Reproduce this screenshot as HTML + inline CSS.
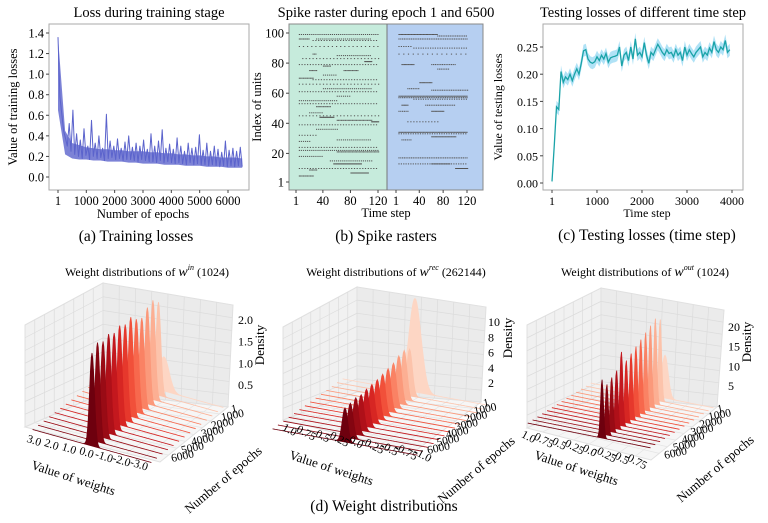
<!DOCTYPE html>
<html><head><meta charset="utf-8">
<style>
html,body{margin:0;padding:0;background:#fff;}
svg{display:block;font-family:"Liberation Serif",serif;}
</style></head>
<body>
<svg id="fig" width="768" height="523" viewBox="0 0 768 523" xmlns="http://www.w3.org/2000/svg">
<g>
<text x="149" y="17" font-size="14.5" text-anchor="middle">Loss during training stage</text>
<rect x="49" y="24" width="200" height="166" fill="#fff" stroke="#aaa" stroke-width="1"/>
<g id="ga"></g>
<text x="17" y="107" font-size="12.5" text-anchor="middle" transform="rotate(-90 17 107)">Value of training losses</text>
<text x="143" y="218" font-size="12.5" text-anchor="middle">Number of epochs</text>
<text x="136" y="241" font-size="15.5" text-anchor="middle">(a) Training losses</text>
</g>
<g>
<text x="386" y="17" font-size="14.5" text-anchor="middle">Spike raster during epoch 1 and 6500</text>
<rect x="289" y="24" width="98" height="166" fill="#c6ebdc"/>
<rect x="387" y="24" width="96" height="166" fill="#b6cff1"/>
<rect x="289" y="24" width="194" height="166" fill="none" stroke="#888" stroke-width="1"/>
<line x1="387" y1="24" x2="387" y2="190" stroke="#777" stroke-width="1"/>
<g id="gb"></g>
<text x="261" y="107" font-size="12.5" text-anchor="middle" transform="rotate(-90 261 107)">Index of units</text>
<text x="386" y="217" font-size="12.5" text-anchor="middle">Time step</text>
<text x="386" y="241" font-size="15.5" text-anchor="middle">(b) Spike rasters</text>
</g>
<g>
<text x="643" y="17" font-size="14.5" text-anchor="middle">Testing losses of different time step</text>
<rect x="543" y="24" width="200" height="166" fill="#fff" stroke="#aaa" stroke-width="1"/>
<g id="gc"></g>
<text x="502" y="107" font-size="12" text-anchor="middle" transform="rotate(-90 502 107)">Value of testing losses</text>
<text x="647" y="217" font-size="12" text-anchor="middle">Time step</text>
<text x="647" y="240" font-size="15.5" text-anchor="middle">(c) Testing losses (time step)</text>
</g>
<g id="gd">
<text x="147" y="276" font-size="12" text-anchor="middle">Weight distributions of <tspan font-style="italic" font-size="14">w</tspan><tspan font-style="italic" font-size="8" dy="-6">in</tspan><tspan dy="6"> (1024)</tspan></text>
<text x="396" y="276" font-size="12" text-anchor="middle">Weight distributions of <tspan font-style="italic" font-size="14">w</tspan><tspan font-style="italic" font-size="8" dy="-6">rec</tspan><tspan dy="6"> (262144)</tspan></text>
<text x="645" y="276" font-size="12" text-anchor="middle">Weight distributions of <tspan font-style="italic" font-size="14">w</tspan><tspan font-style="italic" font-size="8" dy="-6">out</tspan><tspan dy="6"> (1024)</tspan></text>
<text x="384" y="511" font-size="15.5" text-anchor="middle">(d) Weight distributions</text>
</g>
</svg>
<script>
const lossValues=[1.36,0.78,0.62,0.45,0.38,0.30,0.52,0.25,0.65,0.22,0.42,0.20,0.36,0.18,0.47,0.21,0.30,0.17,0.55,0.20,0.33,0.18,0.40,0.19,0.28,0.16,0.61,0.18,0.35,0.19,0.30,0.17,0.37,0.18,0.28,0.16,0.34,0.17,0.40,0.17,0.29,0.16,0.33,0.15,0.30,0.17,0.36,0.16,0.27,0.15,0.42,0.15,0.30,0.14,0.35,0.16,0.46,0.14,0.28,0.15,0.32,0.14,0.27,0.13,0.38,0.14,0.30,0.13,0.25,0.12,0.33,0.14,0.28,0.12,0.29,0.13,0.41,0.12,0.26,0.12,0.33,0.11,0.25,0.12,0.30,0.11,0.27,0.10,0.24,0.11,0.35,0.10,0.26,0.11,0.28,0.10,0.25,0.11,0.29,0.10];
const lossLow=[0.65,0.22,0.18,0.17,0.17,0.16,0.16,0.15,0.15,0.15,0.14,0.14,0.13,0.13,0.13,0.12,0.12,0.12,0.11,0.11,0.11,0.10,0.10,0.10,0.09,0.09,0.09];
const lossHigh=[1.36,0.45,0.33,0.31,0.29,0.28,0.27,0.27,0.26,0.26,0.25,0.25,0.25,0.24,0.24,0.23,0.23,0.22,0.22,0.21,0.21,0.20,0.20,0.19,0.19,0.19,0.18];
const lossYTicks=[0.0,0.2,0.4,0.6,0.8,1.0,1.2,1.4];
const lossXTicks=[1,1000,2000,3000,4000,5000,6000];
const testValues=[0.003,0.07,0.14,0.135,0.205,0.185,0.195,0.19,0.20,0.188,0.20,0.21,0.20,0.22,0.243,0.245,0.228,0.222,0.22,0.223,0.232,0.225,0.235,0.228,0.238,0.222,0.23,0.232,0.233,0.235,0.25,0.215,0.235,0.24,0.225,0.25,0.228,0.265,0.235,0.24,0.232,0.258,0.235,0.22,0.24,0.235,0.245,0.255,0.248,0.24,0.235,0.245,0.238,0.24,0.232,0.245,0.235,0.24,0.225,0.25,0.235,0.245,0.238,0.232,0.24,0.245,0.25,0.232,0.24,0.235,0.248,0.24,0.26,0.245,0.24,0.25,0.245,0.262,0.24,0.245];
const testYTicks=[0.00,0.05,0.10,0.15,0.20,0.25];
const testXTicks=[1,1000,2000,3000,4000];
const rasterYTicks=[1,20,40,60,80,100];
const rasterXTicks=[1,40,80,120];
const spikesEpoch1=[[99,5,120,3],[96,5,20,2],[96,30,110,3],[95,25,120,4],[91,5,120,6],[86,25,30,2],[85,60,110,3],[83,10,120,5],[81,100,110,1],[79,5,120,4],[78,40,50,2],[75,20,30,2],[75,70,90,2],[72,40,60,3],[70,5,25,2],[69,25,120,4],[66,5,120,5],[63,40,110,3],[61,5,120,4],[58,60,80,3],[55,5,60,3],[53,5,120,4],[51,30,50,2],[47,20,40,3],[45,5,120,5],[44,35,55,1],[42,60,110,2],[41,110,120,1],[39,5,120,4],[36,30,60,3],[32,5,30,4],[29,60,110,3],[28,5,20,3],[24,5,120,4],[22,5,120,3],[21,60,120,2],[18,5,40,3],[15,50,110,3],[13,55,95,1],[10,5,120,4],[9,20,30,2],[7,80,105,1],[5,5,25,2]];
const spikesEpoch6500=[[99,5,70,2],[98,70,120,3],[96,5,120,3],[91,5,25,4],[90,30,120,4],[86,5,120,8],[79,10,30,2],[79,60,100,3],[76,70,90,3],[67,40,60,2],[63,20,40,3],[62,60,120,3],[58,5,120,2],[57,5,120,3],[56,30,120,4],[52,10,20,2],[52,50,100,3],[48,5,20,3],[48,60,80,2],[41,20,70,5],[34,5,120,2],[33,5,120,4],[31,60,100,2],[29,10,25,3],[17,5,120,3],[13,5,120,4],[13,60,90,2],[10,100,120,1]];
const densIn=[0.55,1.5,1.6,1.55,1.45,1.5,1.6,1.55,1.6,1.55,1.6,1.55,1.6,1.5];
const densRec=[11,5.5,5.8,5.6,5.2,5.0,4.8,4.6,4.5,4.4,4.2,4.3,4.1,4.0];
const densOut=[11,21,22,21,20,19,18,17,16,19,15,14,13,15];
const wTicksIn=["3.0","2.0","1.0","0.0","-1.0","-2.0","-3.0"];
const wTicksRec=["1.0","0.75","0.5","0.25","0.0","-0.25","-0.5","-0.75","-1.0"];
const wTicksOut=["1.0","0.75","0.5","0.25","0.0","-0.25","-0.5","-0.75"];
const epochTicks=["1","1000","2000","3000","4000","5000","6000"];
const zTicksIn=["0.5","1.0","1.5","2.0"];
const zTicksRec=["2","4","6","8","10"];
const zTicksOut=["5","10","15","20"];

const NS="http://www.w3.org/2000/svg";
function mk(parent,tag,attrs,txt){const e=document.createElementNS(NS,tag);for(const k in attrs)e.setAttribute(k,attrs[k]);if(txt!==undefined)e.textContent=txt;parent.appendChild(e);return e;}

(function(){
  const g=document.getElementById('ga');
  const X=v=>58+(v-1)*(228-58)/5999, Y=v=>177-v*(144/1.4);
  lossYTicks.forEach(t=>{mk(g,'line',{x1:46,x2:49,y1:Y(t),y2:Y(t),stroke:'#444'});
    const tx=mk(g,'text',{x:44,y:Y(t)+4.5,'font-size':12.5,'text-anchor':'end'},t.toFixed(1));
    });
  lossXTicks.forEach(t=>{mk(g,'line',{x1:X(t),x2:X(t),y1:190,y2:193,stroke:'#444'});
    const tx=mk(g,'text',{x:X(t),y:205,'font-size':12.5,'text-anchor':'middle'},String(t));
    });
  const m=lossLow.length;
  const up=lossHigh.map((v,i)=>X(1+i*6499/(m-1)).toFixed(1)+','+Y(v).toFixed(1));
  const dn=lossLow.map((v,i)=>X(1+i*6499/(m-1)).toFixed(1)+','+Y(v).toFixed(1)).reverse();
  const band=mk(g,'polygon',{points:up.concat(dn).join(' '),fill:'#5b63cc','fill-opacity':0.8});
  
  const n=lossValues.length;
  const pts=lossValues.map((v,i)=>X(1+i*6499/(n-1)).toFixed(1)+','+Y(v).toFixed(1)).join(' ');
  const pl=mk(g,'polyline',{points:pts,fill:'none',stroke:'#5b63cc','stroke-width':1,'stroke-linejoin':'round'});
  
})();

(function(){
  const g=document.getElementById('gb');
  const Y=u=>182-(u-1)*(149/99);
  const X1=t=>296+(t-1)*(82/119), X2=t=>396+(t-1)*(71/119);
  rasterYTicks.forEach(t=>{mk(g,'line',{x1:286,x2:289,y1:Y(t),y2:Y(t),stroke:'#444'});
    const tx=mk(g,'text',{x:284,y:Y(t)+4.5,'font-size':12.5,'text-anchor':'end'},String(t));
    });
  [X1,X2].forEach(X=>rasterXTicks.forEach(t=>{mk(g,'line',{x1:X(t),x2:X(t),y1:190,y2:193,stroke:'#444'});
    const tx=mk(g,'text',{x:X(t),y:205,'font-size':12.5,'text-anchor':'middle'},String(t));
    }));
  function draw(segs,X,name){
    const grp=mk(g,'g',{fill:'#555'});
    
    segs.forEach(s=>{for(let t=s[1];t<=s[2];t+=s[3]){mk(grp,'rect',{x:X(t).toFixed(1),y:(Y(s[0])-0.5).toFixed(1),width:1.2,height:1});}});
  }
  draw(spikesEpoch1,X1,'spikes-epoch-1');
  draw(spikesEpoch6500,X2,'spikes-epoch-6500');
})();

(function(){
  const g=document.getElementById('gc');
  const X=v=>552+(v-1)*(180/3999), Y=v=>183-v*(136/0.25);
  testYTicks.forEach(t=>{mk(g,'line',{x1:540,x2:543,y1:Y(t),y2:Y(t),stroke:'#444'});
    const tx=mk(g,'text',{x:538,y:Y(t)+4.5,'font-size':12,'text-anchor':'end'},t.toFixed(2));
    });
  testXTicks.forEach(t=>{mk(g,'line',{x1:X(t),x2:X(t),y1:190,y2:193,stroke:'#444'});
    const tx=mk(g,'text',{x:X(t),y:205,'font-size':12,'text-anchor':'middle'},String(t));
    });
  const xs=testValues.map((v,i)=>1+i*50);
  const up=testValues.map((v,i)=>X(xs[i]).toFixed(1)+','+Y(v+(i<2?0.004:0.011)).toFixed(1));
  const dn=testValues.map((v,i)=>X(xs[i]).toFixed(1)+','+Y(v-(i<2?0.004:0.011)).toFixed(1)).reverse();
  const band=mk(g,'polygon',{points:up.concat(dn).join(' '),fill:'#8fd6f2','fill-opacity':0.7});
  
  const pl=mk(g,'polyline',{points:testValues.map((v,i)=>X(xs[i]).toFixed(1)+','+Y(v).toFixed(1)).join(' '),fill:'none',stroke:'#1aa3a8','stroke-width':1.3});
  
})();

const reds=[[253,214,196],[252,178,150],[251,137,106],[245,90,64],[226,46,38],[190,20,28],[150,10,20],[110,0,14]];
function redAt(f){const p=f*(reds.length-1),i=Math.min(Math.floor(p),reds.length-2),r=p-i;
  const c=reds[i].map((v,k)=>Math.round(v+(reds[i+1][k]-v)*r));return 'rgb('+c.join(',')+')';}
function panel3d(cfg){
  const g=mk(document.getElementById('gd'),'g',{});
  
  const P=cfg.pane;
  mk(g,'polygon',{points:[P.lt,P.bt,P.bb,P.lb].map(p=>p.join(',')).join(' '),fill:'#f1f1f1',stroke:'#e0e0e0'});
  mk(g,'polygon',{points:[P.bt,P.rt,P.rb,P.bb].map(p=>p.join(',')).join(' '),fill:'#ebebeb',stroke:'#e0e0e0'});
  mk(g,'polygon',{points:[P.lb,P.bb,P.rb,P.fr].map(p=>p.join(',')).join(' '),fill:'#f6f6f6',stroke:'#e0e0e0'});
  const lerp=(a,b,t)=>[a[0]+(b[0]-a[0])*t,a[1]+(b[1]-a[1])*t];
  for(let k=1;k<8;k++){const t=k/8;
    let a=lerp(P.lt,P.bt,t),b=lerp(P.lb,P.bb,t);mk(g,'line',{x1:a[0],y1:a[1],x2:b[0],y2:b[1],stroke:'#dcdcdc','stroke-width':0.7});
    a=lerp(P.bt,P.rt,t);b=lerp(P.bb,P.rb,t);mk(g,'line',{x1:a[0],y1:a[1],x2:b[0],y2:b[1],stroke:'#dcdcdc','stroke-width':0.7});
    a=lerp(P.lt,P.lb,t);b=lerp(P.bt,P.bb,t);mk(g,'line',{x1:a[0],y1:a[1],x2:b[0],y2:b[1],stroke:'#dcdcdc','stroke-width':0.7});
    a=lerp(P.bt,P.bb,t);b=lerp(P.rt,P.rb,t);mk(g,'line',{x1:a[0],y1:a[1],x2:b[0],y2:b[1],stroke:'#dcdcdc','stroke-width':0.7});
    a=lerp(P.lb,P.fr,t);b=lerp(P.bb,P.rb,t);mk(g,'line',{x1:a[0],y1:a[1],x2:b[0],y2:b[1],stroke:'#e4e4e4','stroke-width':0.7});
    a=lerp(P.lb,P.bb,t);b=lerp(P.fr,P.rb,t);mk(g,'line',{x1:a[0],y1:a[1],x2:b[0],y2:b[1],stroke:'#e4e4e4','stroke-width':0.7});
  }
  const n=cfg.dens.length;
  cfg.dens.forEach((d,i)=>{
    const ef=1-i/(n-1);
    const sig=i===0?cfg.sig*2.2:cfg.sig;
    const amp=d*cfg.zs;
    const pts=[];
    for(let s=0;s<=160;s++){const w=cfg.wmin+(cfg.wmax-cfg.wmin)*s/160;
      const z=amp*Math.exp(-0.5*Math.pow((w-cfg.mu)/sig,2));
      const x=cfg.front[0]+(w-cfg.mu)*cfg.wv[0]+ef*cfg.ev[0];
      const y=cfg.front[1]+(w-cfg.mu)*cfg.wv[1]+ef*cfg.ev[1]-z;
      pts.push(x.toFixed(1)+','+y.toFixed(1));}
    const col=redAt(i/(n-1));
    const r=mk(g,'polygon',{points:pts.join(' '),fill:col,stroke:col,'stroke-width':0.8});
    
  });
  cfg.wTicks.forEach((t,k)=>{const f=k/(cfg.wTicks.length-1);const p=lerp(cfg.wa,cfg.wb,f);
    const tx=mk(g,'text',{x:p[0],y:p[1],'font-size':11.5,'text-anchor':'middle',transform:'rotate('+cfg.wrot+' '+p[0]+' '+p[1]+')'},t);
    });
  epochTicks.forEach((t,k)=>{const f=k/(epochTicks.length-1);const p=lerp(cfg.ea,cfg.eb,f);
    const tx=mk(g,'text',{x:p[0],y:p[1],'font-size':11.5,'text-anchor':'start',transform:'rotate(-12 '+p[0]+' '+p[1]+')'},t);
    });
  cfg.zTicks.forEach((t,k)=>{const p=lerp(cfg.za,cfg.zb,k/(cfg.zTicks.length-1));
    const tx=mk(g,'text',{x:p[0],y:p[1],'font-size':12,'text-anchor':'start'},t);
    });
  let tx=mk(g,'text',{x:cfg.wt[0],y:cfg.wt[1],'font-size':13,'text-anchor':'middle',transform:'rotate(18 '+cfg.wt[0]+' '+cfg.wt[1]+')'},'Value of weights');
  
  tx=mk(g,'text',{x:cfg.et[0],y:cfg.et[1],'font-size':13,'text-anchor':'middle',transform:'rotate(-40 '+cfg.et[0]+' '+cfg.et[1]+')'},'Number of epochs');
  
  tx=mk(g,'text',{x:cfg.dt[0],y:cfg.dt[1],'font-size':13,'text-anchor':'middle',transform:'rotate(-90 '+cfg.dt[0]+' '+cfg.dt[1]+')'},'Density');
  
}
panel3d({name:'plot-w-in',pane:{lt:[25,325],bt:[103,283],rt:[233,305],lb:[25,427],bb:[103,393],rb:[228,407],fr:[160,462]},
  dens:densIn,zs:62,sig:0.13,mu:0,wmin:-3.3,wmax:3.3,front:[92,446],wv:[-18,-5],ev:[72,-55],
  wTicks:wTicksIn,wrot:18,wa:[33,444],wb:[138,468],ea:[232,413],eb:[172,462],
  zTicks:zTicksIn,za:[238,389],zb:[238,324],wt:[72,482],et:[226,483],dt:[264,345]});
panel3d({name:'plot-w-rec',pane:{lt:[283,327],bt:[357,287],rt:[486,307],lb:[283,420],bb:[357,392],rb:[481,402],fr:[414,452]},
  dens:densRec,zs:8.5,sig:0.04,mu:0,wmin:-1.05,wmax:1.05,front:[345,442],wv:[-69,-12.5],ev:[70,-50],
  wTicks:wTicksRec,wrot:28,wa:[288,433],wb:[421,458],ea:[484,407],eb:[428,454],
  zTicks:zTicksRec,za:[488,387],zb:[488,326],wt:[330,472],et:[479,473],dt:[512,338]});
panel3d({name:'plot-w-out',pane:{lt:[527,325],bt:[601,288],rt:[724,310],lb:[527,428],bb:[601,395],rb:[717,407],fr:[651,460]},
  dens:densOut,zs:3.9,sig:0.022,mu:-0.1,wmin:-0.85,wmax:1.05,front:[602,438],wv:[-64.6,-13],ev:[63,-40],
  wTicks:wTicksOut,wrot:28,wa:[527,440],wb:[634,464],ea:[718,413],eb:[665,459],
  zTicks:zTicksOut,za:[728,390],zb:[728,331],wt:[575,472],et:[718,472],dt:[751,342]});
</script>
</body></html>
